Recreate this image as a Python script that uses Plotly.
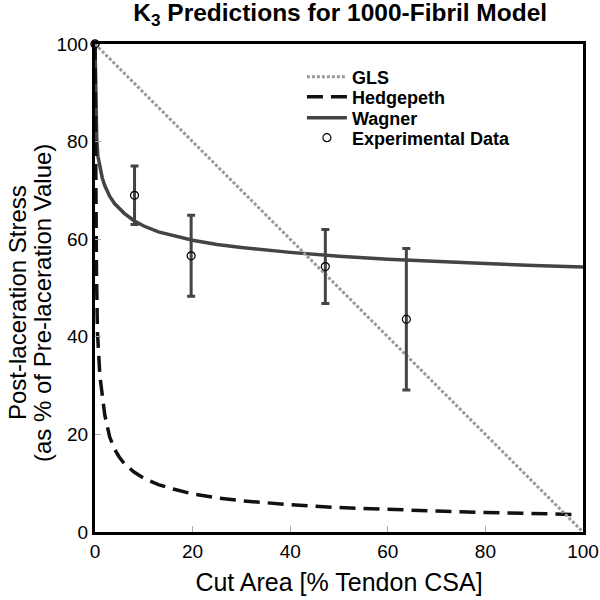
import plotly.graph_objects as go

# GLS (linear)
gls_x = [0, 100]
gls_y = [100, 0]

# Hedgepeth
hedge_x = [0, 0.1, 0.2, 0.3, 0.5, 1, 1.5, 2, 3, 4, 5, 6, 8, 10, 13, 16, 20, 25, 30, 40, 50, 60, 70, 80, 90, 98]
hedge_y = [100, 75, 62, 54, 41, 32, 28, 24, 19.5, 17, 15.3, 14, 12.3, 11.0, 9.7, 8.8, 7.8, 7.0, 6.4, 5.6, 5.0, 4.6, 4.3, 4.0, 3.8, 3.6]

# Wagner
wag_x = [0, 0.1, 0.2, 0.35, 0.6, 1, 1.5, 2, 3, 4, 5, 6, 8, 10, 13, 16, 20, 25, 30, 40, 50, 60, 70, 80, 90, 100]
wag_y = [100, 90, 85, 80.5, 77, 74.5, 72.5, 71, 68.8, 67.3, 66.2, 65.3, 63.8, 62.7, 61.5, 60.7, 59.8, 58.9, 58.3, 57.3, 56.5, 55.9, 55.4, 55.0, 54.6, 54.3]

# Experimental data
exp_x = [8.1, 19.7, 47.2, 63.8]
exp_y = [69.0, 56.6, 54.4, 43.6]
exp_err = [6.0, 8.3, 7.6, 14.5]
origin_x = [0]
origin_y = [100]

x_ticks = [0, 20, 40, 60, 80, 100]
y_ticks = [0, 20, 40, 60, 80, 100]

FONT = "Liberation Sans, Arial"
LEG_FONT = dict(family=FONT, size=18, color="black", weight="bold")

fig = go.Figure()

fig.add_trace(go.Scatter(x=wag_x, y=wag_y, mode="lines", name="Wagner", legend="legend3",
                         line=dict(color="#444444", width=3.5)))
fig.add_trace(go.Scatter(x=hedge_x, y=hedge_y, mode="lines", name="Hedgepeth", legend="legend2",
                         line=dict(color="#111111", width=3.5, dash="16px,8px")))
fig.add_trace(go.Scatter(x=gls_x, y=gls_y, mode="lines", name="GLS", legend="legend",
                         line=dict(color="#999999", width=3, dash="3px,2px")))
fig.add_trace(go.Scatter(x=exp_x, y=exp_y, mode="markers", name="Experimental Data", legend="legend4",
                         marker=dict(symbol="circle-open", size=8, color="black", line=dict(width=1.2)),
                         error_y=dict(type="data", array=exp_err, visible=True, color="#444444",
                                      thickness=3, width=4)))
fig.add_trace(go.Scatter(x=origin_x, y=origin_y, mode="markers", showlegend=False,
                         marker=dict(symbol="circle-open", size=8, color="black", line=dict(width=1.5)),
                         cliponaxis=False))

axis_common = dict(showline=True, linecolor="black", linewidth=3, mirror=True,
                   ticks="inside", ticklen=6, tickcolor="#aaaaaa", tickwidth=1,
                   showgrid=False, zeroline=False, automargin=False,
                   tickfont=dict(family=FONT, size=19, color="black"))

def leg(y):
    return dict(x=0.424, y=y, xanchor="left", yanchor="middle",
                bgcolor="rgba(0,0,0,0)", borderwidth=0, font=LEG_FONT, itemwidth=40)

fig.update_layout(
    width=600, height=600,
    margin=dict(l=95, r=17, t=44, b=68),
    paper_bgcolor="white", plot_bgcolor="white",
    title=dict(text="<b>K<sub>3</sub> Predictions for 1000-Fibril Model</b>",
               x=0.567, xanchor="center", y=0.993, yanchor="top", automargin=False,
               font=dict(family=FONT, size=24.5, color="black")),
    xaxis=dict(range=[0, 100], tickvals=x_ticks,
               title=dict(text="Cut Area [% Tendon CSA]", standoff=13,
                          font=dict(family=FONT, size=25, color="black")),
               **axis_common),
    yaxis=dict(range=[0, 100], tickvals=y_ticks, **axis_common),
    legend=leg(0.9324),
    legend2=leg(0.8914),
    legend3=leg(0.8484),
    legend4=leg(0.8074),
    showlegend=True,
    hovermode=False,
    annotations=[
        dict(text="Post-laceration Stress", textangle=-90, xref="paper", yref="paper",
             x=0, y=0.5, xanchor="center", yanchor="middle", xshift=-78, yshift=-15,
             showarrow=False, font=dict(family=FONT, size=24, color="black")),
        dict(text="(as % of Pre-laceration Value)", textangle=-90, xref="paper", yref="paper",
             x=0, y=0.5, xanchor="center", yanchor="middle", xshift=-53, yshift=-15,
             showarrow=False, font=dict(family=FONT, size=24, color="black")),
    ],
)

fig.write_html("out.html", config={"displayModeBar": False},
               post_script="document.body.style.margin='0';")
